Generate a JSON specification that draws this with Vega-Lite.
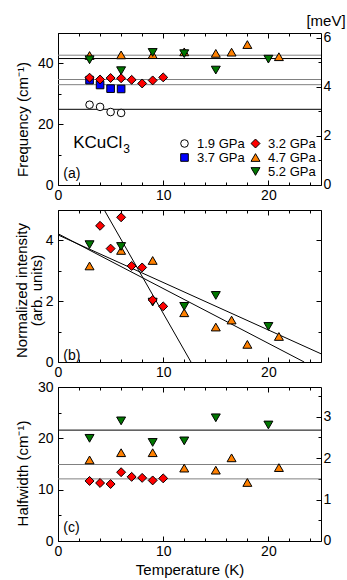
{
  "$schema": "https://vega.github.io/schema/vega-lite/v6.json",
  "autosize": {"type": "pad"},
  "padding": {"left": 13, "top": 12, "right": 2, "bottom": 4},
  "background": "white",
  "config": {
    "font": "Liberation Sans",
    "view": {"stroke": "black", "strokeWidth": 1},
    "axis": {"grid": false, "domain": false, "tickColor": "black", "tickWidth": 1, "labelFontSize": 14, "labelColor": "black", "titleFontSize": 15, "titleFontWeight": "normal", "titleColor": "black", "labelFont": "Liberation Sans", "titleFont": "Liberation Sans"},
    "legend": {"labelFontSize": 13, "labelColor": "black", "labelFont": "Liberation Sans", "symbolStrokeColor": "black", "symbolStrokeWidth": 1, "rowPadding": 0, "padding": 0, "labelOffset": 6}
  },
  "datasets": {
    "points": [
      {"panel": "a", "pressure": "1.9 GPa", "T": 3, "value": 26.4},
      {"panel": "a", "pressure": "1.9 GPa", "T": 4, "value": 25.7},
      {"panel": "a", "pressure": "1.9 GPa", "T": 5, "value": 24.0},
      {"panel": "a", "pressure": "1.9 GPa", "T": 6, "value": 23.7},
      {"panel": "a", "pressure": "3.7 GPa", "T": 3, "value": 34.5},
      {"panel": "a", "pressure": "3.7 GPa", "T": 4, "value": 32.9},
      {"panel": "a", "pressure": "3.7 GPa", "T": 5, "value": 31.7},
      {"panel": "a", "pressure": "3.7 GPa", "T": 6, "value": 31.6},
      {"panel": "a", "pressure": "4.7 GPa", "T": 3, "value": 42.6},
      {"panel": "a", "pressure": "4.7 GPa", "T": 6, "value": 42.8},
      {"panel": "a", "pressure": "4.7 GPa", "T": 9, "value": 42.9},
      {"panel": "a", "pressure": "4.7 GPa", "T": 12, "value": 43.8},
      {"panel": "a", "pressure": "4.7 GPa", "T": 15, "value": 43.3},
      {"panel": "a", "pressure": "4.7 GPa", "T": 16.5, "value": 43.7},
      {"panel": "a", "pressure": "4.7 GPa", "T": 18, "value": 46.2},
      {"panel": "a", "pressure": "4.7 GPa", "T": 21, "value": 42.2},
      {"panel": "a", "pressure": "5.2 GPa", "T": 3, "value": 41.2},
      {"panel": "a", "pressure": "5.2 GPa", "T": 6, "value": 37.6},
      {"panel": "a", "pressure": "5.2 GPa", "T": 9, "value": 43.6},
      {"panel": "a", "pressure": "5.2 GPa", "T": 12, "value": 43.2},
      {"panel": "a", "pressure": "5.2 GPa", "T": 15, "value": 37.8},
      {"panel": "a", "pressure": "5.2 GPa", "T": 20, "value": 41.4},
      {"panel": "a", "pressure": "3.2 GPa", "T": 3, "value": 35.3},
      {"panel": "a", "pressure": "3.2 GPa", "T": 4, "value": 34.7},
      {"panel": "a", "pressure": "3.2 GPa", "T": 5, "value": 35.2},
      {"panel": "a", "pressure": "3.2 GPa", "T": 6, "value": 35.1},
      {"panel": "a", "pressure": "3.2 GPa", "T": 7, "value": 34.6},
      {"panel": "a", "pressure": "3.2 GPa", "T": 8, "value": 33.4},
      {"panel": "a", "pressure": "3.2 GPa", "T": 9, "value": 34.4},
      {"panel": "a", "pressure": "3.2 GPa", "T": 10, "value": 35.4},
      {"panel": "b", "pressure": "4.7 GPa", "T": 3, "value": 3.16},
      {"panel": "b", "pressure": "4.7 GPa", "T": 6, "value": 3.67},
      {"panel": "b", "pressure": "4.7 GPa", "T": 9, "value": 3.34},
      {"panel": "b", "pressure": "4.7 GPa", "T": 12, "value": 1.62},
      {"panel": "b", "pressure": "4.7 GPa", "T": 15, "value": 1.15},
      {"panel": "b", "pressure": "4.7 GPa", "T": 16.5, "value": 1.38},
      {"panel": "b", "pressure": "4.7 GPa", "T": 18, "value": 0.58},
      {"panel": "b", "pressure": "4.7 GPa", "T": 21, "value": 0.84},
      {"panel": "b", "pressure": "5.2 GPa", "T": 3, "value": 3.86},
      {"panel": "b", "pressure": "5.2 GPa", "T": 6, "value": 3.8},
      {"panel": "b", "pressure": "5.2 GPa", "T": 9, "value": 1.97},
      {"panel": "b", "pressure": "5.2 GPa", "T": 12, "value": 1.83},
      {"panel": "b", "pressure": "5.2 GPa", "T": 15, "value": 2.19},
      {"panel": "b", "pressure": "5.2 GPa", "T": 20, "value": 1.17},
      {"panel": "b", "pressure": "3.2 GPa", "T": 4, "value": 4.48},
      {"panel": "b", "pressure": "3.2 GPa", "T": 5, "value": 3.73},
      {"panel": "b", "pressure": "3.2 GPa", "T": 6, "value": 4.76},
      {"panel": "b", "pressure": "3.2 GPa", "T": 7, "value": 3.16},
      {"panel": "b", "pressure": "3.2 GPa", "T": 8, "value": 3.11},
      {"panel": "b", "pressure": "3.2 GPa", "T": 9, "value": 2.04},
      {"panel": "b", "pressure": "3.2 GPa", "T": 10, "value": 1.83},
      {"panel": "c", "pressure": "4.7 GPa", "T": 3, "value": 15.8},
      {"panel": "c", "pressure": "4.7 GPa", "T": 6, "value": 17.2},
      {"panel": "c", "pressure": "4.7 GPa", "T": 9, "value": 17.2},
      {"panel": "c", "pressure": "4.7 GPa", "T": 12, "value": 14.2},
      {"panel": "c", "pressure": "4.7 GPa", "T": 15, "value": 13.8},
      {"panel": "c", "pressure": "4.7 GPa", "T": 16.5, "value": 16.2},
      {"panel": "c", "pressure": "4.7 GPa", "T": 18, "value": 11.4},
      {"panel": "c", "pressure": "4.7 GPa", "T": 21, "value": 14.3},
      {"panel": "c", "pressure": "5.2 GPa", "T": 3, "value": 20.0},
      {"panel": "c", "pressure": "5.2 GPa", "T": 6, "value": 23.4},
      {"panel": "c", "pressure": "5.2 GPa", "T": 9, "value": 19.2},
      {"panel": "c", "pressure": "5.2 GPa", "T": 12, "value": 19.5},
      {"panel": "c", "pressure": "5.2 GPa", "T": 15, "value": 24.0},
      {"panel": "c", "pressure": "5.2 GPa", "T": 20, "value": 22.6},
      {"panel": "c", "pressure": "3.2 GPa", "T": 3, "value": 11.7},
      {"panel": "c", "pressure": "3.2 GPa", "T": 4, "value": 11.3},
      {"panel": "c", "pressure": "3.2 GPa", "T": 5, "value": 11.1},
      {"panel": "c", "pressure": "3.2 GPa", "T": 6, "value": 13.4},
      {"panel": "c", "pressure": "3.2 GPa", "T": 7, "value": 12.5},
      {"panel": "c", "pressure": "3.2 GPa", "T": 8, "value": 12.3},
      {"panel": "c", "pressure": "3.2 GPa", "T": 9, "value": 11.8},
      {"panel": "c", "pressure": "3.2 GPa", "T": 10, "value": 12.2}
    ],
    "hlines": [
      {"panel": "a", "pressure": "4.7 GPa", "value": 42.7},
      {"panel": "a", "pressure": "5.2 GPa", "value": 41.6},
      {"panel": "a", "pressure": "3.2 GPa", "value": 34.7},
      {"panel": "a", "pressure": "3.7 GPa", "value": 33.0},
      {"panel": "a", "pressure": "1.9 GPa", "value": 24.9},
      {"panel": "c", "pressure": "5.2 GPa", "value": 21.6},
      {"panel": "c", "pressure": "4.7 GPa", "value": 14.9},
      {"panel": "c", "pressure": "3.2 GPa", "value": 12.1}
    ],
    "slopes": [
      {"pressure": "3.2 GPa", "T1": 4.4, "v1": 5.0, "T2": 12.64, "v2": 0.0},
      {"pressure": "4.7 GPa", "T1": 0, "v1": 4.22, "T2": 23.4, "v2": 0.0},
      {"pressure": "5.2 GPa", "T1": 0, "v1": 4.18, "T2": 25, "v2": 0.27}
    ]
  },
  "vconcat": [
    {
      "width": 263,
      "height": 152,
      "layer": [
        {
          "data": {"name": "hlines"},
          "transform": [{"filter": "datum.panel === 'a'"}],
          "mark": {"type": "rule", "strokeWidth": 1},
          "encoding": {
            "y": {"field": "value", "type": "quantitative", "scale": {"domain": [0, 50], "nice": false}, "axis": null},
            "color": {"field": "pressure", "type": "nominal", "scale": {"domain": ["4.7 GPa", "5.2 GPa", "3.2 GPa", "3.7 GPa", "1.9 GPa"], "range": ["#808080", "#000000", "#808080", "#808080", "#000000"]}, "legend": null}
          }
        },
        {
          "data": {"name": "points"},
          "transform": [{"filter": "datum.panel === 'a' && (datum.pressure === '1.9 GPa' || datum.pressure === '3.7 GPa')"}],
          "mark": {"type": "point", "filled": true, "strokeWidth": 1, "size": 58, "opacity": 1},
          "encoding": {
            "x": {"field": "T", "type": "quantitative", "scale": {"domain": [0, 25], "nice": false},
              "axis": {"orient": "bottom", "values": [0, 2, 4, 6, 8, 10, 12, 14, 16, 18, 20, 22, 24], "labelExpr": "datum.value % 10 === 0 ? datum.label : ''", "tickSize": {"condition": {"test": "datum.value % 10 === 0", "value": -5}, "value": -3}, "labelPadding": 8, "labelOverlap": false, "labelFlush": false, "title": null}},
            "y": {"field": "value", "type": "quantitative", "scale": {"domain": [0, 50], "nice": false},
              "axis": {"orient": "left", "values": [0, 10, 20, 30, 40, 50], "labelExpr": "datum.value % 20 === 0 ? datum.label : ''", "tickSize": {"condition": {"test": "datum.value % 20 === 0", "value": -5}, "value": -3}, "labelPadding": 10, "labelOverlap": false, "labelFlush": false, "title": "Frequency (cm⁻¹)", "titleX": -31, "titleY": 86, "titleBaseline": "alphabetic"}},
            "shape": {"field": "pressure", "type": "nominal", "scale": {"domain": ["1.9 GPa", "3.7 GPa"], "range": ["circle", "square"]},
              "legend": {"orient": "none", "legendX": 120, "legendY": 104, "title": null, "symbolSize": 58}},
            "fill": {"field": "pressure", "type": "nominal", "scale": {"domain": ["1.9 GPa", "3.7 GPa"], "range": ["#ffffff", "#0000ff"]},
              "legend": {"orient": "none", "legendX": 120, "legendY": 104, "title": null, "symbolSize": 58}},
            "stroke": {"field": "pressure", "type": "nominal", "scale": {"domain": ["1.9 GPa", "3.7 GPa"], "range": ["#000000", "#000000"]},
              "legend": {"orient": "none", "legendX": 120, "legendY": 104, "title": null, "symbolSize": 58}}
          }
        },
        {
          "data": {"name": "points"},
          "transform": [{"filter": "datum.panel === 'a' && datum.pressure !== '1.9 GPa' && datum.pressure !== '3.7 GPa'"}],
          "mark": {"type": "point", "filled": true, "strokeWidth": 1, "size": 80, "opacity": 1},
          "encoding": {
            "x": {"field": "T", "type": "quantitative", "axis": null},
            "y": {"field": "value", "type": "quantitative", "scale": {"domain": [0, 50], "nice": false}, "axis": null},
            "shape": {"field": "pressure", "type": "nominal", "scale": {"domain": ["3.2 GPa", "4.7 GPa", "5.2 GPa"], "range": ["diamond", "triangle-up", "triangle-down"]},
              "legend": {"orient": "none", "legendX": 191, "legendY": 104, "title": null, "symbolSize": 80}},
            "fill": {"field": "pressure", "type": "nominal", "scale": {"domain": ["3.2 GPa", "4.7 GPa", "5.2 GPa"], "range": ["#ff0000", "#ff8000", "#007700"]},
              "legend": {"orient": "none", "legendX": 191, "legendY": 104, "title": null, "symbolSize": 80}},
            "stroke": {"field": "pressure", "type": "nominal", "scale": {"domain": ["3.2 GPa", "4.7 GPa", "5.2 GPa"], "range": ["#000000", "#000000", "#000000"]},
              "legend": {"orient": "none", "legendX": 191, "legendY": 104, "title": null, "symbolSize": 80}}
          }
        },
        {
          "data": {"values": [{}]},
          "mark": {"type": "text", "align": "left", "baseline": "middle", "fontSize": 14, "color": "black"},
          "encoding": {"x": {"datum": 0.5, "type": "quantitative", "axis": null}, "y": {"datum": 3.5, "type": "quantitative", "scale": {"domain": [0, 50], "nice": false}, "axis": null}, "text": {"value": "(a)"}}
        },
        {
          "data": {"values": [{}]},
          "mark": {"type": "text", "align": "left", "baseline": "middle", "fontSize": 17, "color": "black"},
          "encoding": {"x": {"datum": 1.45, "type": "quantitative", "axis": null}, "y": {"datum": 13.8, "type": "quantitative", "scale": {"domain": [0, 50], "nice": false}, "axis": null}, "text": {"value": "KCuCl"}}
        },
        {
          "data": {"values": [{}]},
          "mark": {"type": "text", "align": "left", "baseline": "middle", "fontSize": 12, "color": "black"},
          "encoding": {"x": {"datum": 6.2, "type": "quantitative", "axis": null}, "y": {"datum": 11.8, "type": "quantitative", "scale": {"domain": [0, 50], "nice": false}, "axis": null}, "text": {"value": "3"}}
        },
        {
          "data": {"name": "slopes"},
          "mark": {"type": "point", "opacity": 0, "clip": true},
          "encoding": {
            "x": {"field": "T2", "type": "quantitative",
              "axis": {"orient": "top", "values": [0, 2, 4, 6, 8, 10, 12, 14, 16, 18, 20, 22, 24], "labels": false, "tickSize": {"condition": {"test": "datum.value % 10 === 0", "value": -5}, "value": -3}, "title": null}},
            "y": {"field": "v2", "type": "quantitative", "scale": {"domain": [0, 6.1992], "nice": false},
              "axis": {"orient": "right", "values": [0.0001, 1, 2, 3, 4, 5, 6], "labelExpr": "round(datum.value) % 2 === 0 ? format(round(datum.value), 'd') : ''", "tickSize": {"condition": {"test": "round(datum.value) % 2 === 0", "value": -5}, "value": -3}, "labelPadding": 7, "labelOverlap": false, "labelFlush": false, "labelBound": false, "title": "[meV]", "titleAngle": 0, "titleX": 4.5, "titleY": -13, "titleAlign": "center", "titleBaseline": "middle"}}
          }
        }
      ],
      "resolve": {"scale": {"y": "independent", "shape": "independent", "fill": "independent", "stroke": "independent"}, "axis": {"x": "independent", "y": "independent"}}
    },
    {
      "width": 263,
      "height": 152,
      "layer": [
        {
          "data": {"name": "slopes"},
          "mark": {"type": "rule", "color": "black", "strokeWidth": 1},
          "encoding": {
            "x": {"field": "T1", "type": "quantitative", "scale": {"domain": [0, 25], "nice": false},
              "axis": {"orient": "bottom", "values": [0, 2, 4, 6, 8, 10, 12, 14, 16, 18, 20, 22, 24], "labelExpr": "datum.value % 10 === 0 ? datum.label : ''", "tickSize": {"condition": {"test": "datum.value % 10 === 0", "value": -5}, "value": -3}, "labelPadding": 8, "labelOverlap": false, "labelFlush": false, "title": null}},
            "x2": {"field": "T2"},
            "y": {"field": "v1", "type": "quantitative", "scale": {"domain": [0, 5], "nice": false},
              "axis": {"orient": "left", "values": [0, 1, 2, 3, 4, 5], "labelExpr": "datum.value % 2 === 0 ? datum.label : ''", "tickSize": {"condition": {"test": "datum.value % 2 === 0", "value": -5}, "value": -3}, "labelPadding": 10, "labelOverlap": false, "labelFlush": false, "title": ["Normalized intensity", "(arb. units)"], "titleX": -32, "titleY": 80, "titleBaseline": "alphabetic", "titleLineHeight": 15}},
            "y2": {"field": "v2"}
          }
        },
        {
          "data": {"name": "points"},
          "transform": [{"filter": "datum.panel === 'b'"}],
          "mark": {"type": "point", "filled": true, "stroke": "black", "strokeWidth": 1, "strokeOpacity": 1, "size": 80, "opacity": 1},
          "encoding": {
            "x": {"field": "T", "type": "quantitative", "axis": null},
            "y": {"field": "value", "type": "quantitative", "axis": null},
            "shape": {"field": "pressure", "type": "nominal", "scale": {"domain": ["3.2 GPa", "4.7 GPa", "5.2 GPa"], "range": ["diamond", "triangle-up", "triangle-down"]}, "legend": null},
            "fill": {"field": "pressure", "type": "nominal", "scale": {"domain": ["3.2 GPa", "4.7 GPa", "5.2 GPa"], "range": ["#ff0000", "#ff8000", "#007700"]}, "legend": null}
          }
        },
        {
          "data": {"values": [{}]},
          "mark": {"type": "text", "align": "left", "baseline": "middle", "fontSize": 14, "color": "black"},
          "encoding": {"x": {"datum": 0.5, "type": "quantitative", "axis": null}, "y": {"datum": 0.2, "type": "quantitative", "axis": null}, "text": {"value": "(b)"}}
        },
        {
          "data": {"values": [{}]},
          "mark": {"type": "point", "opacity": 0},
          "encoding": {
            "x": {"datum": 0, "type": "quantitative",
              "axis": {"orient": "top", "values": [0, 2, 4, 6, 8, 10, 12, 14, 16, 18, 20, 22, 24], "labels": false, "tickSize": {"condition": {"test": "datum.value % 10 === 0", "value": -5}, "value": -3}, "title": null}},
            "y": {"datum": 0, "type": "quantitative",
              "axis": {"orient": "right", "values": [0, 1, 2, 3, 4, 5], "labels": false, "tickSize": {"condition": {"test": "datum.value % 2 === 0", "value": -5}, "value": -3}, "title": null}}
          }
        }
      ],
      "resolve": {"axis": {"x": "independent", "y": "independent"}}
    },
    {
      "width": 263,
      "height": 154,
      "layer": [
        {
          "data": {"name": "hlines"},
          "transform": [{"filter": "datum.panel === 'c'"}],
          "mark": {"type": "rule", "strokeWidth": 1},
          "encoding": {
            "y": {"field": "value", "type": "quantitative", "scale": {"domain": [0, 30], "nice": false}, "axis": null},
            "color": {"field": "pressure", "type": "nominal", "scale": {"domain": ["5.2 GPa", "4.7 GPa", "3.2 GPa"], "range": ["#808080", "#808080", "#000000"]}, "legend": null}
          }
        },
        {
          "data": {"name": "points"},
          "transform": [{"filter": "datum.panel === 'c'"}],
          "mark": {"type": "point", "filled": true, "stroke": "black", "strokeWidth": 1, "strokeOpacity": 1, "size": 80, "opacity": 1},
          "encoding": {
            "x": {"field": "T", "type": "quantitative", "scale": {"domain": [0, 25], "nice": false},
              "axis": {"orient": "bottom", "values": [0, 2, 4, 6, 8, 10, 12, 14, 16, 18, 20, 22, 24], "labelExpr": "datum.value % 10 === 0 ? datum.label : ''", "tickSize": {"condition": {"test": "datum.value % 10 === 0", "value": -5}, "value": -3}, "labelPadding": 8, "labelOverlap": false, "labelFlush": false, "title": "Temperature (K)", "titleY": 33, "titleBaseline": "alphabetic"}},
            "y": {"field": "value", "type": "quantitative", "scale": {"domain": [0, 30], "nice": false},
              "axis": {"orient": "left", "values": [0, 5, 10, 15, 20, 25, 30], "labelExpr": "datum.value % 10 === 0 ? datum.label : ''", "tickSize": {"condition": {"test": "datum.value % 10 === 0", "value": -5}, "value": -3}, "labelPadding": 10, "labelOverlap": false, "labelFlush": false, "title": "Halfwidth (cm⁻¹)", "titleX": -31, "titleY": 86, "titleBaseline": "alphabetic"}},
            "shape": {"field": "pressure", "type": "nominal", "scale": {"domain": ["3.2 GPa", "4.7 GPa", "5.2 GPa"], "range": ["diamond", "triangle-up", "triangle-down"]}, "legend": null},
            "fill": {"field": "pressure", "type": "nominal", "scale": {"domain": ["3.2 GPa", "4.7 GPa", "5.2 GPa"], "range": ["#ff0000", "#ff8000", "#007700"]}, "legend": null}
          }
        },
        {
          "data": {"values": [{}]},
          "mark": {"type": "text", "align": "left", "baseline": "middle", "fontSize": 14, "color": "black"},
          "encoding": {"x": {"datum": 0.5, "type": "quantitative", "axis": null}, "y": {"datum": 2.5, "type": "quantitative", "scale": {"domain": [0, 30], "nice": false}, "axis": null}, "text": {"value": "(c)"}}
        },
        {
          "data": {"name": "slopes"},
          "mark": {"type": "point", "opacity": 0, "clip": true},
          "encoding": {
            "x": {"field": "T2", "type": "quantitative",
              "axis": {"orient": "top", "values": [0, 2, 4, 6, 8, 10, 12, 14, 16, 18, 20, 22, 24], "labels": false, "tickSize": {"condition": {"test": "datum.value % 10 === 0", "value": -5}, "value": -3}, "title": null}},
            "y": {"field": "v2", "type": "quantitative", "scale": {"domain": [0, 3.7195], "nice": false},
              "axis": {"orient": "right", "values": [0.0001, 0.5, 1, 1.5, 2, 2.5, 3, 3.5], "labelExpr": "abs(datum.value - round(datum.value)) < 0.01 ? format(round(datum.value), 'd') : ''", "tickSize": {"condition": {"test": "abs(datum.value - round(datum.value)) < 0.01", "value": -5}, "value": -3}, "labelPadding": 7, "labelOverlap": false, "labelFlush": false, "labelBound": false, "title": null}}
          }
        }
      ],
      "resolve": {"scale": {"y": "independent"}, "axis": {"x": "independent", "y": "independent"}}
    }
  ],
  "spacing": 25,
  "bounds": "flush"
}
